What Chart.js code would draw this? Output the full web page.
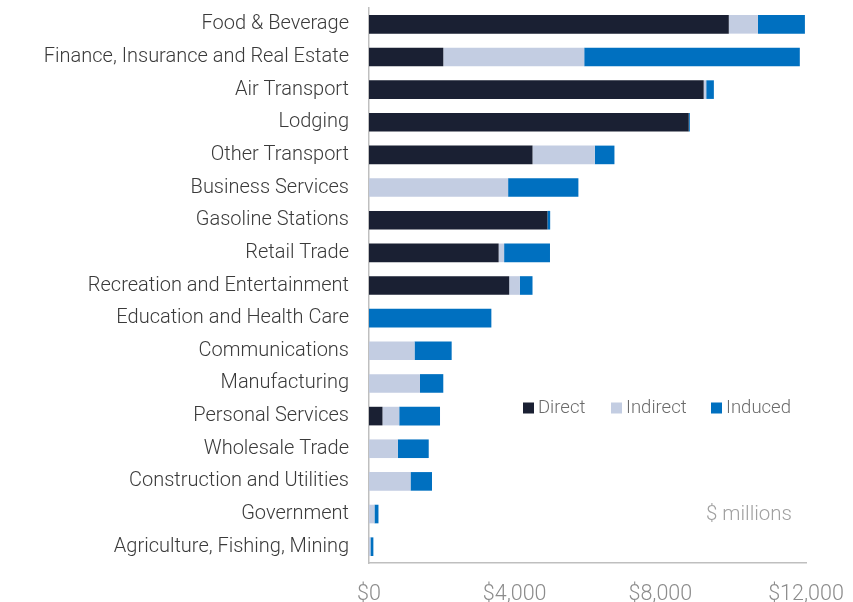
<!DOCTYPE html>
<html>
<head>
<meta charset="utf-8">
<script src="https://cdn.jsdelivr.net/npm/chart.js@4.4.0/dist/chart.umd.min.js"></script>
<style>
  html, body { margin: 0; padding: 0; background: #fff; }
  #wrap { width: 853px; height: 602px; }
</style>
</head>
<body>
<div id="wrap"><canvas id="c" width="853" height="602"></canvas></div>
<script>
const categories = [
  "Food & Beverage",
  "Finance, Insurance and Real Estate",
  "Air Transport",
  "Lodging",
  "Other Transport",
  "Business Services",
  "Gasoline Stations",
  "Retail Trade",
  "Recreation and Entertainment",
  "Education and Health Care",
  "Communications",
  "Manufacturing",
  "Personal Services",
  "Wholesale Trade",
  "Construction and Utilities",
  "Government",
  "Agriculture, Fishing, Mining"
];
const directValues   = [9880, 2040, 9190, 8780, 4490, 0, 4900, 3560, 3850, 0, 0, 0, 370, 0, 0, 0, 0];
const indirectValues = [800, 3870, 70, 0, 1710, 3820, 0, 150, 290, 0, 1250, 1400, 460, 790, 1140, 150, 40];
const inducedValues  = [1290, 5920, 210, 30, 540, 1930, 75, 1260, 350, 3360, 1020, 640, 1120, 850, 590, 110, 80];
const seriesNames = ["Direct", "Indirect", "Induced"];
const seriesColors = ["#1a2033", "#c3cde2", "#0070c0"];
const xTicks = [0, 4000, 8000, 12000];

const FONT = "Roboto, 'Open Sans', sans-serif";

const overlayPlugin = {
  id: 'overlay',
  afterDraw(chart) {
    const ctx = chart.ctx;
    ctx.save();
    ctx.font = "300 18.5px " + FONT;
    ctx.textBaseline = 'middle';
    const starts = [523, 611, 711];
    const y = 408;
    chart.data.datasets.forEach((ds, i) => {
      ctx.fillStyle = ds.backgroundColor;
      ctx.fillRect(starts[i], y - 5.5, 11, 11);
      ctx.fillStyle = '#6b6b6b';
      ctx.textAlign = 'left';
      ctx.fillText(ds.label, starts[i] + 15, y);
    });
    ctx.font = "300 20.5px " + FONT;
    ctx.fillStyle = '#a0a0a0';
    ctx.textAlign = 'right';
    ctx.fillText("$ millions", 792, 515);
    ctx.restore();
  }
};

const valueLists = [directValues, indirectValues, inducedValues];
new Chart(document.getElementById('c'), {
  type: 'bar',
  data: {
    labels: categories,
    datasets: seriesNames.map((n, i) => ({
      label: n,
      data: valueLists[i],
      backgroundColor: seriesColors[i],
      borderWidth: 0,
      categoryPercentage: 1,
      barPercentage: 0.57
    }))
  },
  options: {
    indexAxis: 'y',
    responsive: false,
    animation: false,
    devicePixelRatio: 1,
    layout: { padding: { top: 8, right: 47, left: 0, bottom: 0 } },
    plugins: {
      legend: { display: false },
      tooltip: { enabled: false }
    },
    scales: {
      x: {
        stacked: true,
        min: 0,
        max: 12000,
        afterBuildTicks: (s) => { s.ticks = xTicks.map(v => ({ value: v })); },
        afterFit: (s) => { s.height = 39; s.paddingLeft = 0; s.paddingRight = 0; },
        grid: { display: false, drawTicks: false },
        border: { display: true, color: '#bfbfbf', width: 1.5 },
        ticks: {
          padding: 19,
          color: '#8c8c8c',
          font: { family: FONT, size: 21.5, weight: 300 },
          maxRotation: 0,
          callback: (v) => '$' + Number(v).toLocaleString('en-US')
        }
      },
      y: {
        stacked: true,
        afterFit: (s) => { s.width = 369; s.paddingTop = 0; s.paddingBottom = 0; },
        grid: { display: false, drawTicks: false },
        border: { display: true, color: '#bfbfbf', width: 1.5 },
        ticks: {
          padding: 20,
          color: '#3a3a3a',
          font: { family: FONT, size: 20, weight: 300 },
          autoSkip: false
        }
      }
    }
  },
  plugins: [overlayPlugin]
});
</script>
</body>
</html>
